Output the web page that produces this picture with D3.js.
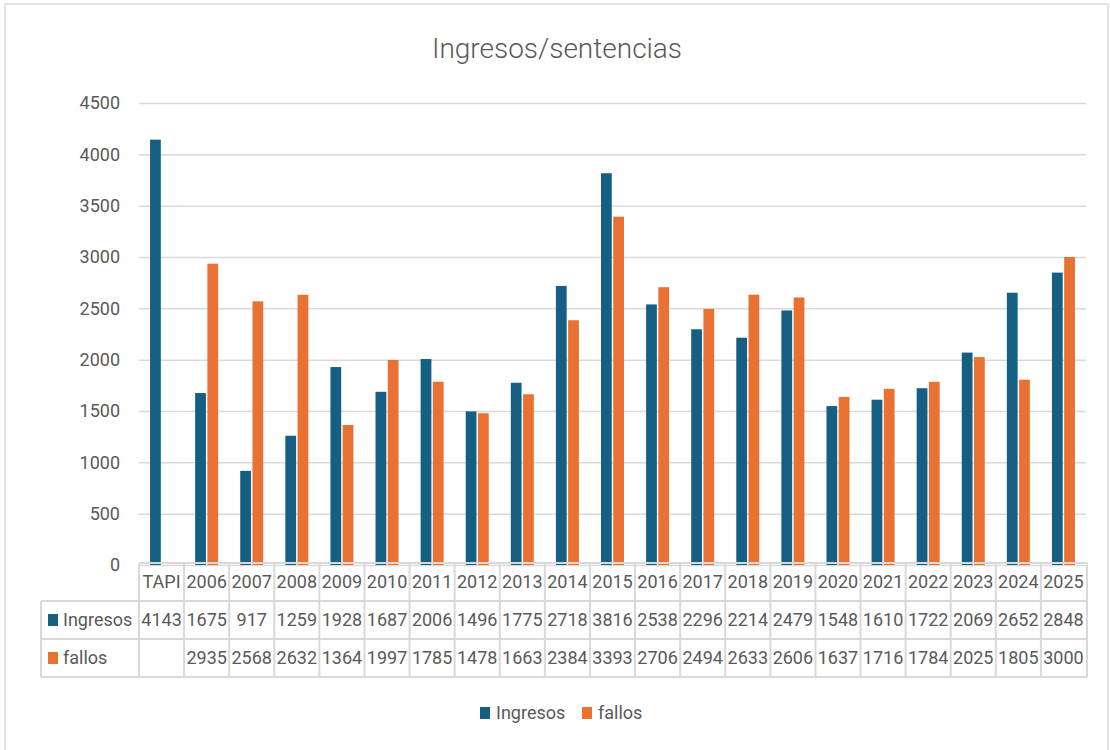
<!DOCTYPE html>
<html>
<head>
<meta charset="utf-8">
<script src="https://cdn.jsdelivr.net/npm/d3@7"></script>
<style>
  body { margin: 0; background: #fff; }
  svg { display: block; font-family: Roboto, "Liberation Sans", sans-serif; }
</style>
</head>
<body>
<svg width="1110" height="750"></svg>
<script>
// chart data
var categories = ["TAPI", "2006", "2007", "2008", "2009", "2010", "2011", "2012", "2013", "2014",
  "2015", "2016", "2017", "2018", "2019", "2020", "2021", "2022", "2023", "2024", "2025"];
var ingresos = [4143, 1675, 917, 1259, 1928, 1687, 2006, 1496, 1775, 2718,
  3816, 2538, 2296, 2214, 2479, 1548, 1610, 1722, 2069, 2652, 2848];
var fallos = [null, 2935, 2568, 2632, 1364, 1997, 1785, 1478, 1663, 2384,
  3393, 2706, 2494, 2633, 2606, 1637, 1716, 1784, 2025, 1805, 3000];
var seriesNames = ["Ingresos", "fallos"];
var yTicks = [0, 500, 1000, 1500, 2000, 2500, 3000, 3500, 4000, 4500];

var colors = { Ingresos: "#156082", fallos: "#e97132" };
var textColor = "#595959";
var lineColor = "#d9d9d9";

var svg = d3.select("svg");

// outer frame
svg.append("rect")
  .attr("x", 5).attr("y", 4)
  .attr("width", 1103).attr("height", 770)
  .attr("fill", "none")
  .attr("stroke", lineColor)
  .attr("stroke-width", 1.5);

// title
svg.append("text")
  .attr("x", 557).attr("y", 58)
  .attr("text-anchor", "middle")
  .attr("fill", textColor)
  .attr("font-size", 28)
  .attr("font-weight", 300)
  .text("Ingresos/sentencias");

var plotLeft = 139, plotRight = 1086, plotTop = 103, plotBottom = 565;

var x = d3.scaleBand().domain(categories).range([plotLeft, plotRight]);
var x1 = d3.scaleBand().domain(seriesNames).range([0, 23]).paddingInner(0.12);
var y = d3.scaleLinear().domain([0, 4500]).range([plotBottom, plotTop]);

// y axis + gridlines
var yAxis = d3.axisLeft(y)
  .tickValues(yTicks)
  .tickSize(-(plotRight - plotLeft))
  .tickPadding(19)
  .tickFormat(d3.format("d"));

var gy = svg.append("g")
  .attr("transform", "translate(" + plotLeft + ",0)")
  .call(yAxis);
gy.select(".domain").remove();
gy.selectAll(".tick line").attr("stroke", lineColor).attr("stroke-width", 1.5);
gy.selectAll(".tick text")
  .attr("fill", textColor)
  .attr("font-size", 18)
  .attr("font-family", "Roboto, sans-serif");

// bars
var rows = categories.map(function(c, i) {
  return { cat: c, Ingresos: ingresos[i], fallos: fallos[i] };
});
var groupOffset = (x.bandwidth() - 23) / 2;

var groups = svg.append("g").selectAll("g")
  .data(rows)
  .enter()
  .append("g")
  .attr("transform", function(d) {
    return "translate(" + (x(d.cat) + groupOffset) + ",0)";
  });

groups.selectAll("rect")
  .data(function(d) {
    return seriesNames
      .filter(function(s) { return d[s] != null; })
      .map(function(s) { return { key: s, value: d[s] }; });
  })
  .enter()
  .append("rect")
  .attr("x", function(d) { return x1(d.key); })
  .attr("width", x1.bandwidth())
  .attr("y", function(d) { return y(d.value); })
  .attr("height", function(d) { return y(0) - y(d.value); })
  .attr("fill", function(d) { return colors[d.key]; });

// data table
var rowH = 38;
var tableTop = 563;
var headLeft = 41;
var table = svg.append("g");

// horizontal lines
table.append("line")
  .attr("x1", plotLeft).attr("x2", plotRight + 1)
  .attr("y1", tableTop).attr("y2", tableTop);
[1, 2, 3].forEach(function(r) {
  table.append("line")
    .attr("x1", headLeft).attr("x2", plotRight + 1)
    .attr("y1", tableTop + r * rowH).attr("y2", tableTop + r * rowH);
});
// vertical lines
table.append("line")
  .attr("x1", headLeft).attr("x2", headLeft)
  .attr("y1", tableTop + rowH).attr("y2", tableTop + 3 * rowH);
categories.forEach(function(c) {
  table.append("line")
    .attr("x1", x(c)).attr("x2", x(c))
    .attr("y1", tableTop).attr("y2", tableTop + 3 * rowH);
});
table.append("line")
  .attr("x1", plotRight + 1).attr("x2", plotRight + 1)
  .attr("y1", tableTop).attr("y2", tableTop + 3 * rowH);
table.selectAll("line")
  .attr("stroke", lineColor)
  .attr("stroke-width", 2);

// category labels
table.selectAll("text.cat")
  .data(categories)
  .enter()
  .append("text")
  .attr("class", "cat")
  .attr("x", function(d) { return x(d) + x.bandwidth() / 2; })
  .attr("y", tableTop + rowH / 2)
  .attr("dy", "0.35em")
  .attr("text-anchor", "middle")
  .attr("fill", textColor)
  .attr("font-size", 18)
  .text(function(d) { return d; });

// series rows
var seriesValues = { Ingresos: ingresos, fallos: fallos };
seriesNames.forEach(function(s, r) {
  var cy = tableTop + (r + 1) * rowH + rowH / 2;
  table.append("rect")
    .attr("x", 48).attr("y", cy - 6)
    .attr("width", 10).attr("height", 12)
    .attr("fill", colors[s]);
  table.append("text")
    .attr("x", 63).attr("y", cy)
    .attr("dy", "0.35em")
    .attr("fill", textColor)
    .attr("font-size", 18)
    .text(s);
  table.selectAll("text.v" + r)
    .data(seriesValues[s].map(function(v, i) { return { v: v, cat: categories[i] }; }))
    .enter()
    .append("text")
    .attr("class", "v" + r)
    .attr("x", function(d) { return x(d.cat) + x.bandwidth() / 2; })
    .attr("y", cy)
    .attr("dy", "0.35em")
    .attr("text-anchor", "middle")
    .attr("fill", textColor)
    .attr("font-size", 18)
    .text(function(d) { return d.v == null ? "" : d.v; });
});

// legend
var legendX = [480, 582];
var legend = svg.append("g");
seriesNames.forEach(function(s, i) {
  legend.append("rect")
    .attr("x", legendX[i]).attr("y", 707)
    .attr("width", 10).attr("height", 12)
    .attr("fill", colors[s]);
  legend.append("text")
    .attr("x", legendX[i] + 16).attr("y", 713)
    .attr("dy", "0.35em")
    .attr("fill", textColor)
    .attr("font-size", 18)
    .text(s);
});
</script>
</body>
</html>
